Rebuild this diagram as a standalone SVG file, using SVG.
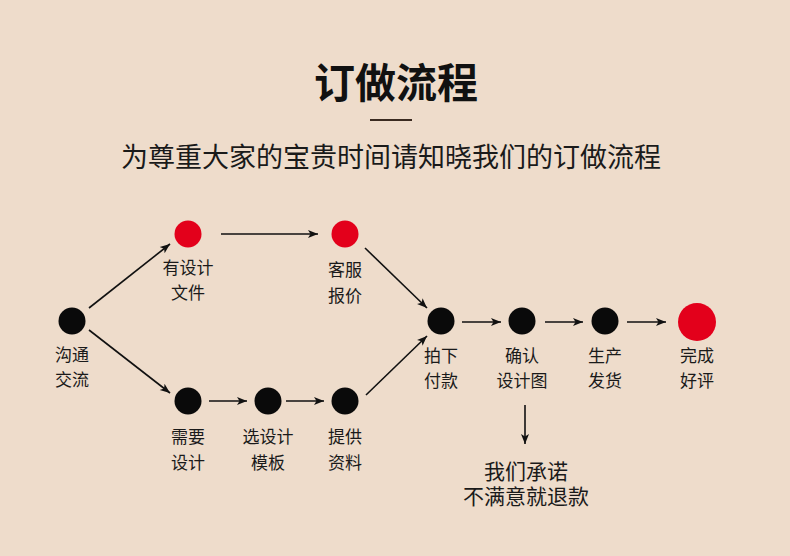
<svg xmlns="http://www.w3.org/2000/svg" width="790" height="556" viewBox="0 0 790 556">
<defs>
<marker id="ah" viewBox="0 0 10 10" refX="10" refY="5" markerWidth="10" markerHeight="10" markerUnits="userSpaceOnUse" orient="auto">
<path d="M0,1 L10,5 L0,9 L2.5,5 Z" fill="#111"/>
</marker>
<style>
.bg{fill:#EEDCCB}
.dot{fill:#0a0a0a}
.red{fill:#E3001B}
.lbl{font-family:"Noto Sans CJK SC","Noto Sans",sans-serif;font-size:17px;fill:#1a1a1a;text-anchor:middle}
.big{font-family:"Noto Sans CJK SC","Noto Sans",sans-serif;font-size:21px;fill:#1a1a1a;text-anchor:middle}
.title{font-family:"Noto Sans CJK SC",sans-serif;font-size:41px;font-weight:bold;fill:#111;text-anchor:middle}
.sub{font-family:"Noto Sans CJK SC",sans-serif;font-size:27px;fill:#1a1a1a;text-anchor:middle}
.ln{stroke:#111;stroke-width:1.6;fill:none;marker-end:url(#ah)}
</style>
</defs>
<rect class="bg" x="0" y="0" width="790" height="556"/>
<g id="header">
<text class="title" x="396" y="98">订做流程</text>
<line x1="370" y1="120" x2="412" y2="120" stroke="#3a2a20" stroke-width="2"/>
<text class="sub" x="391" y="167">为尊重大家的宝贵时间请知晓我们的订做流程</text>
</g>
<g id="connectors">
<line class="ln" x1="89" y1="308" x2="170" y2="244"/>
<line class="ln" x1="89" y1="330" x2="170" y2="393"/>
<line class="ln" x1="221" y1="234" x2="318" y2="234"/>
<line class="ln" x1="209" y1="401" x2="247" y2="401"/>
<line class="ln" x1="286" y1="401" x2="324" y2="401"/>
<line class="ln" x1="365" y1="248" x2="427" y2="308"/>
<line class="ln" x1="366" y1="395" x2="427" y2="336"/>
<line class="ln" x1="462" y1="322" x2="501" y2="322"/>
<line class="ln" x1="545" y1="322" x2="583" y2="322"/>
<line class="ln" x1="627" y1="322" x2="666" y2="322"/>
<line class="ln" x1="525" y1="405" x2="525" y2="444"/>
</g>
<g id="n-goutong"><circle class="dot" cx="72" cy="321" r="13.5"/><text class="lbl" x="72" y="361">沟通</text><text class="lbl" x="72" y="386">交流</text></g>
<g id="n-youwenjian"><circle class="red" cx="188" cy="234" r="13.5"/><text class="lbl" x="188" y="274">有设计</text><text class="lbl" x="188" y="299">文件</text></g>
<g id="n-xuyao"><circle class="dot" cx="188" cy="401" r="13.5"/><text class="lbl" x="188" y="443">需要</text><text class="lbl" x="188" y="469">设计</text></g>
<g id="n-muban"><circle class="dot" cx="268" cy="401" r="13.5"/><text class="lbl" x="268" y="443">选设计</text><text class="lbl" x="268" y="469">模板</text></g>
<g id="n-ziliao"><circle class="dot" cx="345" cy="401" r="13.5"/><text class="lbl" x="345" y="443">提供</text><text class="lbl" x="345" y="469">资料</text></g>
<g id="n-baojia"><circle class="red" cx="345" cy="234" r="13.5"/><text class="lbl" x="345" y="276">客服</text><text class="lbl" x="345" y="302">报价</text></g>
<g id="n-fukuan"><circle class="dot" cx="441" cy="321" r="13.5"/><text class="lbl" x="441" y="362">拍下</text><text class="lbl" x="441" y="387">付款</text></g>
<g id="n-queren"><circle class="dot" cx="522" cy="321" r="13.5"/><text class="lbl" x="522" y="362">确认</text><text class="lbl" x="522" y="387">设计图</text></g>
<g id="n-shengchan"><circle class="dot" cx="605" cy="321" r="13.5"/><text class="lbl" x="605" y="362">生产</text><text class="lbl" x="605" y="387">发货</text></g>
<g id="n-wancheng"><circle class="red" cx="697" cy="322" r="19"/><text class="lbl" x="697" y="362">完成</text><text class="lbl" x="697" y="387">好评</text></g>
<g id="n-chengnuo"><text class="big" x="526" y="479">我们承诺</text><text class="big" x="526" y="504">不满意就退款</text></g>
</svg>
